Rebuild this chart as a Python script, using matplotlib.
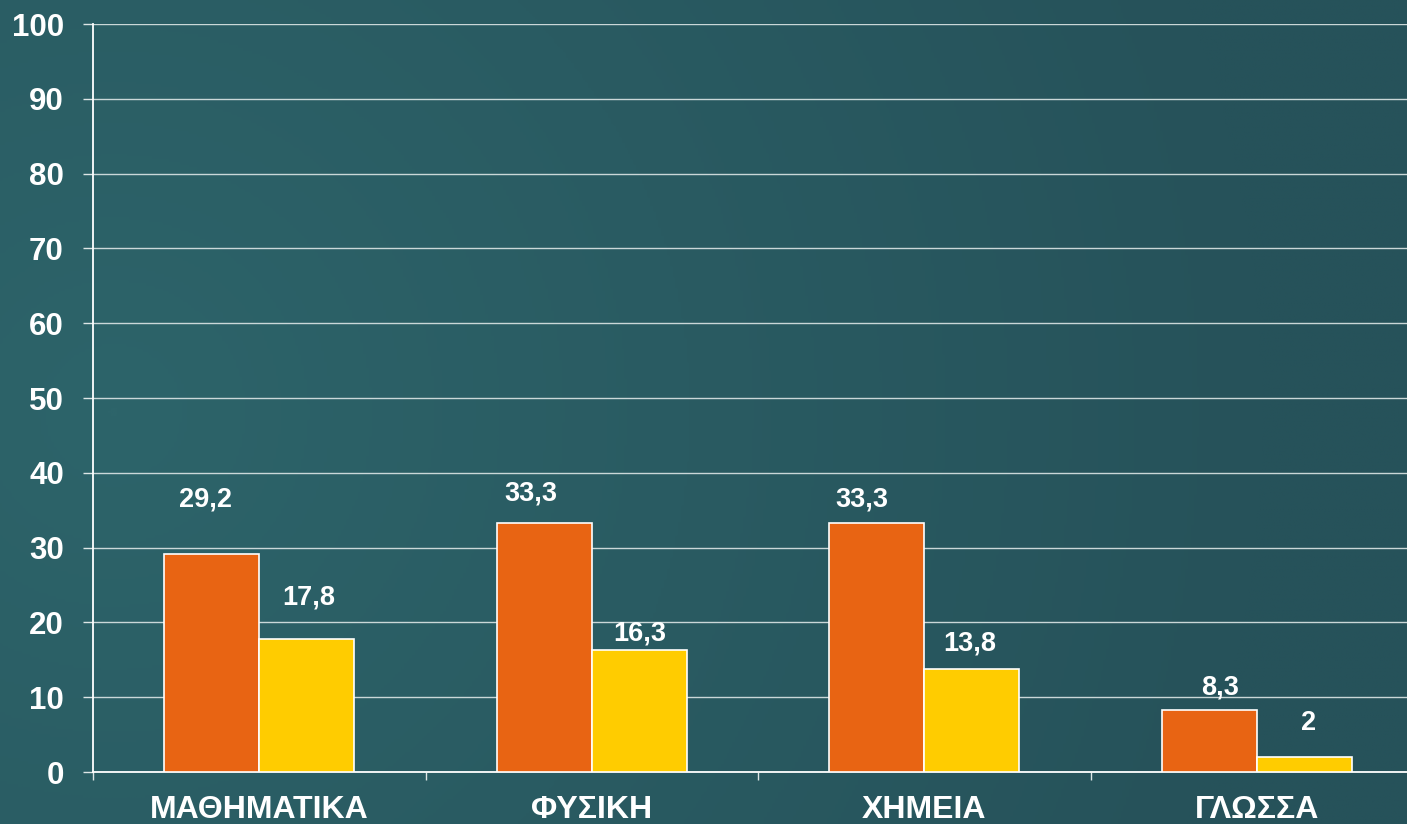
import numpy as np
import matplotlib
matplotlib.use("Agg")
import matplotlib.pyplot as plt
from matplotlib.colors import LinearSegmentedColormap

plt.rcParams["font.family"] = ["Liberation Sans", "DejaVu Sans"]
plt.rcParams["font.weight"] = "bold"

# 数据
categories = ["ΜΑΘΗΜΑΤΙΚΑ", "ΦΥΣΙΚΗ", "ΧΗΜΕΙΑ", "ΓΛΩΣΣΑ"]
series_a = [29.2, 33.3, 33.3, 8.3]
series_b = [17.8, 16.3, 13.8, 2.0]
labels_a = ["29,2", "33,3", "33,3", "8,3"]
labels_b = ["17,8", "16,3", "13,8", "2"]
y_ticks = list(range(0, 101, 10))

# label offsets (pixels) from bar top centre, as laid out in the original
off_a = [(-6, 54), (-13, 29), (-15, 23), (11, 22)]
off_b = [(2, 41), (0, 17), (-2, 25), (4, 34)]

ORANGE = "#E86413"
YELLOW = "#FFCC00"
BG_LIGHT = "#2D646A"
BG_DARK = "#26525A"

W, H, DPI = 14.07, 8.24, 100
fig = plt.figure(figsize=(W, H), dpi=DPI)

# radial background gradient
bg = fig.add_axes([0, 0, 1, 1], zorder=-10)
yy, xx = np.mgrid[0:1:300j, 0:1:500j]
r = np.sqrt(((xx - 0.08) * W / H) ** 2 + (yy - 0.5) ** 2)
r = np.clip(r / 1.4, 0, 1)
cmap = LinearSegmentedColormap.from_list("bg", [BG_LIGHT, BG_DARK])
bg.imshow(r, cmap=cmap, aspect="auto", extent=[0, 1, 0, 1], origin="lower")
bg.set_axis_off()

# axes run slightly past the right edge, like the original slide
ax = fig.add_axes([93 / 1407, 1 - 772 / 824, 1330 / 1407, 748 / 824])
ax.set_facecolor("none")

x = np.arange(len(categories))
w = 0.286
bars_a = ax.bar(x - w / 2, series_a, w, color=ORANGE, edgecolor="white", linewidth=1.2, zorder=3)
bars_b = ax.bar(x + w / 2, series_b, w, color=YELLOW, edgecolor="white", linewidth=1.2, zorder=3)

for bars, labs, offs in ((bars_a, labels_a, off_a), (bars_b, labels_b, off_b)):
    for b, lab, (dx, dy) in zip(bars, labs, offs):
        ax.annotate(lab, (b.get_x() + b.get_width() / 2, b.get_height()),
                    xytext=(dx, dy), textcoords="offset pixels",
                    ha="center", va="center", fontsize=19.5, color="white",
                    fontweight="bold", zorder=4)

ax.set_xlim(-0.5, len(categories) - 0.5)
ax.set_ylim(0, 100)
ax.set_yticks(y_ticks)
ax.set_yticklabels([str(t) for t in y_ticks], fontsize=22.5, color="white", fontweight="bold")
ax.yaxis.grid(True, color="#DDE6E6", linewidth=1.0, alpha=0.9, zorder=1)
ax.set_axisbelow(True)

ax.set_xticks(x)
ax.set_xticklabels(categories, fontsize=23, color="white", fontweight="bold")
ax.set_xticks(np.arange(len(categories) + 1) - 0.5, minor=True)
ax.tick_params(axis="x", which="major", length=0, pad=16.5)
ax.tick_params(axis="x", which="minor", length=6, width=1, color="#DDE6E6", direction="out")
ax.tick_params(axis="y", length=7, width=1, color="#DDE6E6", pad=14)

for s in ("top", "right"):
    ax.spines[s].set_visible(False)
for s in ("left", "bottom"):
    ax.spines[s].set_color("white")
    ax.spines[s].set_linewidth(1.3)

fig.savefig("out.png", dpi=DPI)
